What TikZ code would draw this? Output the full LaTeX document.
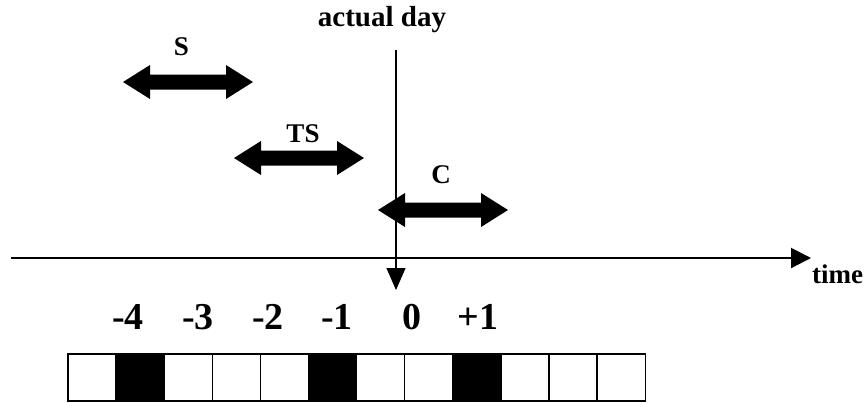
\documentclass[tikz,border=0pt]{standalone}
\usepackage{fontspec}
\setmainfont{Liberation Serif}
\usetikzlibrary{arrows.meta}
\begin{document}
\begin{tikzpicture}[x=1pt,y=-1pt,
  lbl/.style={font=\fontsize{27}{27}\selectfont\bfseries, inner sep=0pt, anchor=base},
  num/.style={font=\fontsize{38}{38}\selectfont\bfseries, inner sep=0pt, anchor=base},
  cell/.style={draw, line width=1.3pt, minimum width=48.1pt, minimum height=47pt, inner sep=0pt, anchor=center},
  dark/.style={cell, fill=black},
  dblarrow/.pic={\fill (-65,0) -- (-38,-17) -- (-38,-7.5) -- (38,-7.5) -- (38,-17) -- (65,0) -- (38,17) -- (38,7.5) -- (-38,7.5) -- (-38,17) -- cycle;}]
\useasboundingbox (0,0) rectangle (867,402);
% time axis
\coordinate (tl) at (11,258);
\coordinate (tr) at (811,258);
\draw[line width=2pt, -{Triangle[length=20pt,width=20pt]}] (tl) -- (tr);
\node[lbl, anchor=base west] (time) at (812,283) {time};
% actual day
\node[lbl, font=\fontsize{29}{29}\selectfont\bfseries] (actual) at (382,26) {actual day};
\coordinate (vtop) at (396,50);
\coordinate (vbot) at (396,290);
\draw[line width=1.2pt, -{Triangle[length=22pt,width=19pt]}] (vtop) -- (vbot);
% double arrows
\pic (S) at (188,82) {dblarrow};
\node[lbl] (Slbl) at (181.5,55) {S};
\pic (TS) at (299,158) {dblarrow};
\node[lbl] (TSlbl) at (303,142) {TS};
\pic (C) at (443,210) {dblarrow};
\node[lbl] (Clbl) at (441,183) {C};
% numbers
\node[num] (n4) at (128,329) {-4};
\node[num] (n3) at (198,329) {-3};
\node[num] (n2) at (268,329) {-2};
\node[num] (n1) at (337,329) {-1};
\node[num] (n0) at (412,329) {0};
\node[num] (p1) at (478,329) {+1};
% cells
\foreach \i in {1,...,12} {
  \pgfmathsetmacro{\cx}{68+48.1*(\i-0.5)}
  \ifnum\i=2 \node[dark] (cell\i) at (\cx,377.5) {};
  \else\ifnum\i=6 \node[dark] (cell\i) at (\cx,377.5) {};
  \else\ifnum\i=9 \node[dark] (cell\i) at (\cx,377.5) {};
  \else \node[cell] (cell\i) at (\cx,377.5) {};
  \fi\fi\fi
}
\end{tikzpicture}
\end{document}
